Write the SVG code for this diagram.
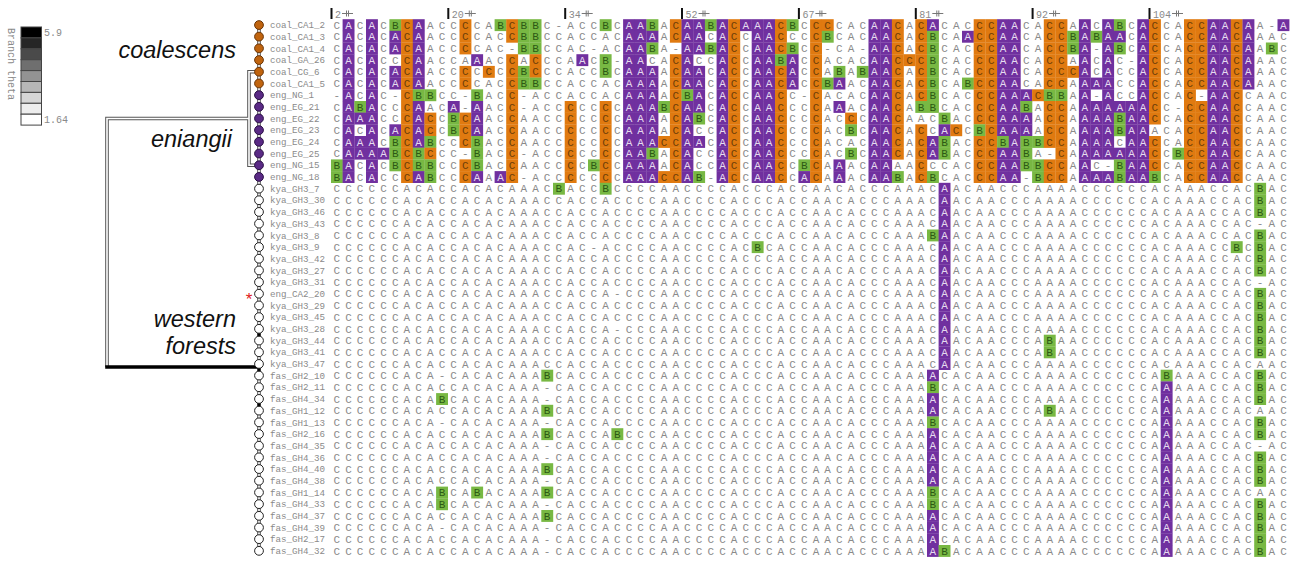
<svg xmlns="http://www.w3.org/2000/svg" width="1295" height="562" viewBox="0 0 1295 562">
<style>
.t{font-family:"Liberation Mono",monospace;font-size:11px;letter-spacing:5.086px;fill:#8a8a8a}
.g{font-family:"Liberation Mono",monospace;font-size:11px;text-anchor:middle}
.lb{font-family:"Liberation Mono",monospace;font-size:9.2px;fill:#8a8a8a}
.hd{font-family:"Liberation Mono",monospace;font-size:10px;fill:#8a8a8a}
.lg{font-family:"Liberation Mono",monospace;font-size:10px;fill:#8a8a8a}
.cl{font-family:"Liberation Sans",Arial,sans-serif;font-style:italic;font-size:23.5px;fill:#111;text-anchor:end}
.co{fill:#c0640f;stroke:#6a3507;stroke-width:1}
.en{fill:#5a2a85;stroke:#2a0f45;stroke-width:1}
.we{fill:#fff;stroke:#222;stroke-width:1}
.lo{fill:none;stroke:#555;stroke-width:3.6}
.li{fill:none;stroke:#fff;stroke-width:1.6}
.lk{fill:none;stroke:#000;stroke-width:3.6}
</style>
<defs>
<g id="A"><rect width="11.9" height="11.9" fill="#70309f"/><text class="g" x="5.84" y="9.5" fill="#e6dcef">A</text></g>
<g id="B"><rect width="11.9" height="11.9" fill="#78b843"/><text class="g" x="5.84" y="9.5" fill="#2d5a14">B</text></g>
<g id="C"><rect width="11.9" height="11.9" fill="#e07a10"/><text class="g" x="5.84" y="9.5" fill="#6e3e08">C</text></g>
<path id="brk" d="M0,0 h11 M4.5,-3 v6 M6.5,-3 v6" stroke="#777" stroke-width="1" fill="none"/>
</defs>
<rect width="1295" height="562" fill="#fff"/>
<g id="legend">
<text class="lg" transform="translate(7.5,28) rotate(90)">Branch theta</text>
<g stroke="#444" stroke-width="1">
<rect x="21" y="27" width="20.5" height="10.9" fill="#000"/>
<rect x="21" y="37.9" width="20.5" height="10.9" fill="#262626"/>
<rect x="21" y="48.8" width="20.5" height="10.9" fill="#4a4a4a"/>
<rect x="21" y="59.7" width="20.5" height="10.9" fill="#6f6f6f"/>
<rect x="21" y="70.6" width="20.5" height="10.9" fill="#939393"/>
<rect x="21" y="81.5" width="20.5" height="10.9" fill="#b7b7b7"/>
<rect x="21" y="92.4" width="20.5" height="10.9" fill="#d6d6d6"/>
<rect x="21" y="103.3" width="20.5" height="10.9" fill="#ededed"/>
<rect x="21" y="114.2" width="20.5" height="10.9" fill="#fff"/>
</g>
<text class="lg" x="44" y="35.5">5.9</text>
<text class="lg" x="44" y="122.5">1.64</text>
</g>
<g id="clade-labels">
<text class="cl" x="236" y="58">coalescens</text>
<text class="cl" x="232" y="147">eniangii</text>
<text class="cl" x="236" y="327">western</text>
<text class="cl" x="236" y="354">forests</text>
<text x="249" y="305" fill="#e02020" font-size="17" text-anchor="middle" font-family="Liberation Sans,Arial,sans-serif">*</text>
</g>
<g id="connectors">
<path class="lo" d="M259,25 V550.9 M258,71.7 H249 V165.2 H258 M249,118.5 H107 V367"/>
<path class="li" d="M259,25 V550.9 M258,71.7 H249 V165.2 H258 M249,118.5 H107 V367"/>
<path class="lk" d="M105.2,367 H259"/>
<path fill="none" stroke="#000" stroke-width="3" d="M259,332 V337 M259,367 V372 M259,402 V407"/>
</g>
<g id="ruler">
<g fill="#111">
<rect x="330.5" y="8" width="2" height="11"/><rect x="447.3" y="8" width="2" height="11"/><rect x="564.2" y="8" width="2" height="11"/><rect x="681" y="8" width="2" height="11"/><rect x="797.9" y="8" width="2" height="11"/><rect x="914.8" y="8" width="2" height="11"/><rect x="1031.6" y="8" width="2" height="11"/><rect x="1148.5" y="8" width="2" height="11"/>
</g>
<text class="hd" x="335" y="17.5">2</text><text class="hd" x="451.8" y="17.5">20</text><text class="hd" x="568.7" y="17.5">34</text><text class="hd" x="685.5" y="17.5">52</text><text class="hd" x="802.4" y="17.5">67</text><text class="hd" x="919.3" y="17.5">81</text><text class="hd" x="1036.1" y="17.5">92</text><text class="hd" x="1153" y="17.5">104</text>
<use href="#brk" x="342" y="13.5"/><use href="#brk" x="464.8" y="13.5"/><use href="#brk" x="581.7" y="13.5"/><use href="#brk" x="698.5" y="13.5"/><use href="#brk" x="815.4" y="13.5"/><use href="#brk" x="932.3" y="13.5"/><use href="#brk" x="1049.1" y="13.5"/><use href="#brk" x="1172" y="13.5"/>
</g>
<g id="r0" transform="translate(0,19.2)"><circle class="co" cx="259" cy="5.84" r="4.4"/><text class="lb" x="270" y="9">coal_CA1_2</text><text class="t" x="333.5" y="9.5">CACACBCAACCCCABCBBC-ACCBCAABACAABACAAACBCCCCACAACACACACCCAACACCAACABCACCACCAACAA-A</text><use href="#A" x="342.6"/><use href="#A" x="366"/><use href="#B" x="389.4"/><use href="#C" x="401.1"/><use href="#A" x="412.8"/><use href="#C" x="459.5"/><use href="#B" x="494.6"/><use href="#C" x="506.2"/><use href="#B" x="517.9"/><use href="#B" x="529.6"/><use href="#B" x="599.7"/><use href="#A" x="623.1"/><use href="#A" x="634.8"/><use href="#B" x="646.5"/><use href="#C" x="669.9"/><use href="#A" x="681.5"/><use href="#A" x="693.2"/><use href="#B" x="704.9"/><use href="#A" x="716.6"/><use href="#C" x="728.3"/><use href="#A" x="740"/><use href="#A" x="751.7"/><use href="#A" x="763.3"/><use href="#C" x="775"/><use href="#B" x="786.7"/><use href="#C" x="810.1"/><use href="#C" x="821.8"/><use href="#A" x="868.5"/><use href="#A" x="880.2"/><use href="#C" x="891.9"/><use href="#C" x="915.3"/><use href="#A" x="927"/><use href="#C" x="973.7"/><use href="#C" x="985.4"/><use href="#A" x="997.1"/><use href="#A" x="1008.8"/><use href="#C" x="1043.8"/><use href="#C" x="1055.5"/><use href="#A" x="1078.9"/><use href="#A" x="1102.2"/><use href="#B" x="1113.9"/><use href="#A" x="1137.3"/><use href="#C" x="1149"/><use href="#C" x="1184"/><use href="#C" x="1195.7"/><use href="#A" x="1207.4"/><use href="#A" x="1219.1"/><use href="#C" x="1230.8"/><use href="#A" x="1242.5"/><use href="#A" x="1277.5"/></g>
<g id="r1" transform="translate(0,30.8)"><circle class="co" cx="259" cy="5.84" r="4.4"/><text class="lb" x="270" y="9">coal_CA1_3</text><text class="t" x="333.5" y="9.5">CACACACAACCCCACCBBCCACCACAAAACAACACCAACCCCBCACAACACBCAACCAACACCBABAACACCACCAACAAAC</text><use href="#A" x="342.6"/><use href="#A" x="366"/><use href="#A" x="389.4"/><use href="#C" x="401.1"/><use href="#A" x="412.8"/><use href="#C" x="459.5"/><use href="#C" x="506.2"/><use href="#B" x="517.9"/><use href="#B" x="529.6"/><use href="#A" x="623.1"/><use href="#A" x="634.8"/><use href="#A" x="646.5"/><use href="#C" x="669.9"/><use href="#A" x="681.5"/><use href="#A" x="693.2"/><use href="#A" x="716.6"/><use href="#C" x="728.3"/><use href="#A" x="751.7"/><use href="#A" x="763.3"/><use href="#C" x="775"/><use href="#C" x="810.1"/><use href="#B" x="821.8"/><use href="#A" x="868.5"/><use href="#A" x="880.2"/><use href="#C" x="891.9"/><use href="#C" x="915.3"/><use href="#B" x="927"/><use href="#A" x="962"/><use href="#C" x="973.7"/><use href="#C" x="985.4"/><use href="#A" x="997.1"/><use href="#A" x="1008.8"/><use href="#C" x="1043.8"/><use href="#C" x="1055.5"/><use href="#B" x="1067.2"/><use href="#A" x="1078.9"/><use href="#B" x="1090.6"/><use href="#A" x="1102.2"/><use href="#A" x="1113.9"/><use href="#A" x="1137.3"/><use href="#C" x="1149"/><use href="#C" x="1184"/><use href="#C" x="1195.7"/><use href="#A" x="1207.4"/><use href="#A" x="1219.1"/><use href="#C" x="1230.8"/><use href="#A" x="1242.5"/></g>
<g id="r2" transform="translate(0,42.5)"><circle class="co" cx="259" cy="5.84" r="4.4"/><text class="lb" x="270" y="9">coal_CA1_4</text><text class="t" x="333.5" y="9.5">CACACACAACCCCAC-BBCCAC-ACAABA-AABACCAACBCC-CA-AACACBCACCCAACACCBA-ABCACCACCAACAABC</text><use href="#A" x="342.6"/><use href="#A" x="366"/><use href="#A" x="389.4"/><use href="#C" x="401.1"/><use href="#A" x="412.8"/><use href="#C" x="459.5"/><use href="#B" x="517.9"/><use href="#B" x="529.6"/><use href="#A" x="623.1"/><use href="#A" x="634.8"/><use href="#B" x="646.5"/><use href="#A" x="681.5"/><use href="#A" x="693.2"/><use href="#B" x="704.9"/><use href="#A" x="716.6"/><use href="#C" x="728.3"/><use href="#A" x="751.7"/><use href="#A" x="763.3"/><use href="#C" x="775"/><use href="#B" x="786.7"/><use href="#C" x="810.1"/><use href="#A" x="868.5"/><use href="#A" x="880.2"/><use href="#C" x="891.9"/><use href="#C" x="915.3"/><use href="#B" x="927"/><use href="#C" x="973.7"/><use href="#C" x="985.4"/><use href="#A" x="997.1"/><use href="#A" x="1008.8"/><use href="#C" x="1043.8"/><use href="#C" x="1055.5"/><use href="#B" x="1067.2"/><use href="#A" x="1078.9"/><use href="#A" x="1102.2"/><use href="#B" x="1113.9"/><use href="#A" x="1137.3"/><use href="#C" x="1149"/><use href="#C" x="1184"/><use href="#C" x="1195.7"/><use href="#A" x="1207.4"/><use href="#A" x="1219.1"/><use href="#C" x="1230.8"/><use href="#A" x="1242.5"/><use href="#B" x="1265.9"/></g>
<g id="r3" transform="translate(0,54.2)"><circle class="co" cx="259" cy="5.84" r="4.4"/><text class="lb" x="270" y="9">coal_GA_26</text><text class="t" x="333.5" y="9.5">CACACCCAACCAAACCACCCAACB-AACACACCACCAABACCACACAACCCBCACCCAACACCAACAC-ACCACCAACAAAC</text><use href="#A" x="342.6"/><use href="#A" x="366"/><use href="#C" x="401.1"/><use href="#A" x="412.8"/><use href="#A" x="471.2"/><use href="#C" x="506.2"/><use href="#C" x="529.6"/><use href="#A" x="576.4"/><use href="#B" x="599.7"/><use href="#A" x="623.1"/><use href="#A" x="634.8"/><use href="#C" x="669.9"/><use href="#A" x="681.5"/><use href="#A" x="716.6"/><use href="#C" x="728.3"/><use href="#A" x="751.7"/><use href="#A" x="763.3"/><use href="#B" x="775"/><use href="#A" x="786.7"/><use href="#C" x="810.1"/><use href="#A" x="868.5"/><use href="#A" x="880.2"/><use href="#C" x="891.9"/><use href="#C" x="903.6"/><use href="#C" x="915.3"/><use href="#B" x="927"/><use href="#C" x="973.7"/><use href="#C" x="985.4"/><use href="#A" x="997.1"/><use href="#A" x="1008.8"/><use href="#C" x="1043.8"/><use href="#C" x="1055.5"/><use href="#A" x="1078.9"/><use href="#A" x="1102.2"/><use href="#A" x="1137.3"/><use href="#C" x="1149"/><use href="#C" x="1184"/><use href="#C" x="1195.7"/><use href="#A" x="1207.4"/><use href="#A" x="1219.1"/><use href="#C" x="1230.8"/><use href="#A" x="1242.5"/></g>
<g id="r4" transform="translate(0,65.9)"><circle class="co" cx="259" cy="5.84" r="4.4"/><text class="lb" x="270" y="9">coal_CG_6</text><text class="t" x="333.5" y="9.5">CACACACAACCCCCCCBCCCACCBCAAAACAACACCAACACCABABAACACBCACCCAACACCCACACCACCACCAACAAAC</text><use href="#A" x="342.6"/><use href="#A" x="366"/><use href="#A" x="389.4"/><use href="#C" x="401.1"/><use href="#A" x="412.8"/><use href="#C" x="459.5"/><use href="#C" x="482.9"/><use href="#C" x="506.2"/><use href="#B" x="517.9"/><use href="#C" x="529.6"/><use href="#B" x="599.7"/><use href="#A" x="623.1"/><use href="#A" x="634.8"/><use href="#A" x="646.5"/><use href="#C" x="669.9"/><use href="#A" x="681.5"/><use href="#A" x="693.2"/><use href="#A" x="716.6"/><use href="#C" x="728.3"/><use href="#A" x="751.7"/><use href="#A" x="763.3"/><use href="#C" x="775"/><use href="#A" x="786.7"/><use href="#C" x="810.1"/><use href="#B" x="833.5"/><use href="#B" x="856.8"/><use href="#A" x="868.5"/><use href="#A" x="880.2"/><use href="#C" x="891.9"/><use href="#C" x="915.3"/><use href="#B" x="927"/><use href="#C" x="973.7"/><use href="#C" x="985.4"/><use href="#A" x="997.1"/><use href="#A" x="1008.8"/><use href="#C" x="1043.8"/><use href="#C" x="1055.5"/><use href="#C" x="1067.2"/><use href="#A" x="1078.9"/><use href="#A" x="1102.2"/><use href="#A" x="1137.3"/><use href="#C" x="1149"/><use href="#C" x="1184"/><use href="#C" x="1195.7"/><use href="#A" x="1207.4"/><use href="#A" x="1219.1"/><use href="#C" x="1230.8"/><use href="#A" x="1242.5"/></g>
<g id="r5" transform="translate(0,77.6)"><circle class="co" cx="259" cy="5.84" r="4.4"/><text class="lb" x="270" y="9">coal_CA1_5</text><text class="t" x="333.5" y="9.5">CACACACAACCCCACCBBCCACCACAAAACAACACCAACACCBAACAACACBCABCCAACACCAAAACCACCACCAACAAAC</text><use href="#A" x="342.6"/><use href="#A" x="366"/><use href="#A" x="389.4"/><use href="#C" x="401.1"/><use href="#A" x="412.8"/><use href="#C" x="459.5"/><use href="#C" x="506.2"/><use href="#B" x="517.9"/><use href="#B" x="529.6"/><use href="#A" x="623.1"/><use href="#A" x="634.8"/><use href="#A" x="646.5"/><use href="#C" x="669.9"/><use href="#A" x="681.5"/><use href="#A" x="693.2"/><use href="#A" x="716.6"/><use href="#C" x="728.3"/><use href="#A" x="751.7"/><use href="#A" x="763.3"/><use href="#C" x="775"/><use href="#A" x="786.7"/><use href="#C" x="810.1"/><use href="#B" x="821.8"/><use href="#A" x="833.5"/><use href="#A" x="868.5"/><use href="#A" x="880.2"/><use href="#C" x="891.9"/><use href="#C" x="915.3"/><use href="#B" x="927"/><use href="#B" x="962"/><use href="#C" x="973.7"/><use href="#C" x="985.4"/><use href="#A" x="997.1"/><use href="#A" x="1008.8"/><use href="#C" x="1043.8"/><use href="#C" x="1055.5"/><use href="#A" x="1078.9"/><use href="#A" x="1090.6"/><use href="#A" x="1102.2"/><use href="#A" x="1137.3"/><use href="#C" x="1149"/><use href="#C" x="1184"/><use href="#C" x="1195.7"/><use href="#A" x="1207.4"/><use href="#A" x="1219.1"/><use href="#C" x="1230.8"/><use href="#A" x="1242.5"/></g>
<g id="r6" transform="translate(0,89.3)"><circle class="en" cx="259" cy="5.84" r="4.4"/><text class="lb" x="270" y="9">eng_NG_1</text><text class="t" x="333.5" y="9.5">-ACAC-CBBCC-BACC-ACCACCACAAAACBACACCAACC-CACACAACACBCACCCAAACBBAA-ACCACCAC-AACCAAC</text><use href="#A" x="342.6"/><use href="#A" x="366"/><use href="#C" x="401.1"/><use href="#B" x="412.8"/><use href="#B" x="424.4"/><use href="#B" x="471.2"/><use href="#C" x="506.2"/><use href="#A" x="623.1"/><use href="#A" x="634.8"/><use href="#A" x="646.5"/><use href="#C" x="669.9"/><use href="#B" x="681.5"/><use href="#A" x="693.2"/><use href="#A" x="716.6"/><use href="#C" x="728.3"/><use href="#A" x="751.7"/><use href="#A" x="763.3"/><use href="#C" x="775"/><use href="#C" x="810.1"/><use href="#A" x="868.5"/><use href="#A" x="880.2"/><use href="#C" x="891.9"/><use href="#C" x="915.3"/><use href="#B" x="927"/><use href="#C" x="973.7"/><use href="#C" x="985.4"/><use href="#A" x="997.1"/><use href="#A" x="1008.8"/><use href="#A" x="1020.4"/><use href="#C" x="1032.1"/><use href="#B" x="1043.8"/><use href="#B" x="1055.5"/><use href="#A" x="1078.9"/><use href="#A" x="1102.2"/><use href="#A" x="1137.3"/><use href="#C" x="1149"/><use href="#C" x="1184"/><use href="#A" x="1207.4"/><use href="#A" x="1219.1"/><use href="#C" x="1230.8"/></g>
<g id="r7" transform="translate(0,101)"><circle class="en" cx="259" cy="5.84" r="4.4"/><text class="lb" x="270" y="9">eng_EG_21</text><text class="t" x="333.5" y="9.5">CABACCCAACA-AACC-ACCCCCCCAAABCAACACCAACCCCAAACAACABBCACCCAABACCAAAAAAACC-CCAACCAAC</text><use href="#A" x="342.6"/><use href="#B" x="354.3"/><use href="#A" x="366"/><use href="#C" x="401.1"/><use href="#A" x="412.8"/><use href="#A" x="447.8"/><use href="#A" x="471.2"/><use href="#C" x="506.2"/><use href="#C" x="564.7"/><use href="#C" x="599.7"/><use href="#A" x="623.1"/><use href="#A" x="634.8"/><use href="#A" x="646.5"/><use href="#B" x="658.2"/><use href="#C" x="669.9"/><use href="#A" x="681.5"/><use href="#A" x="693.2"/><use href="#A" x="716.6"/><use href="#C" x="728.3"/><use href="#A" x="751.7"/><use href="#A" x="763.3"/><use href="#C" x="775"/><use href="#C" x="810.1"/><use href="#A" x="833.5"/><use href="#A" x="868.5"/><use href="#A" x="880.2"/><use href="#C" x="891.9"/><use href="#B" x="915.3"/><use href="#B" x="927"/><use href="#C" x="973.7"/><use href="#C" x="985.4"/><use href="#A" x="997.1"/><use href="#A" x="1008.8"/><use href="#B" x="1020.4"/><use href="#C" x="1043.8"/><use href="#C" x="1055.5"/><use href="#A" x="1078.9"/><use href="#A" x="1090.6"/><use href="#A" x="1102.2"/><use href="#A" x="1113.9"/><use href="#A" x="1125.6"/><use href="#A" x="1137.3"/><use href="#C" x="1149"/><use href="#C" x="1184"/><use href="#C" x="1195.7"/><use href="#A" x="1207.4"/><use href="#A" x="1219.1"/><use href="#C" x="1230.8"/></g>
<g id="r8" transform="translate(0,112.6)"><circle class="en" cx="259" cy="5.84" r="4.4"/><text class="lb" x="270" y="9">eng_EG_22</text><text class="t" x="333.5" y="9.5">CAAACCCACCBCAACCAACCCCCCCAAAACABCACCAACCCCACCCAACAACBACCCAAAACCAAAABAACCACCAACCAAC</text><use href="#A" x="342.6"/><use href="#A" x="354.3"/><use href="#A" x="366"/><use href="#C" x="401.1"/><use href="#A" x="412.8"/><use href="#C" x="424.4"/><use href="#B" x="447.8"/><use href="#C" x="459.5"/><use href="#A" x="471.2"/><use href="#C" x="506.2"/><use href="#C" x="564.7"/><use href="#C" x="599.7"/><use href="#A" x="623.1"/><use href="#A" x="634.8"/><use href="#A" x="646.5"/><use href="#C" x="669.9"/><use href="#A" x="681.5"/><use href="#B" x="693.2"/><use href="#A" x="716.6"/><use href="#C" x="728.3"/><use href="#A" x="751.7"/><use href="#A" x="763.3"/><use href="#C" x="775"/><use href="#C" x="810.1"/><use href="#C" x="845.1"/><use href="#A" x="868.5"/><use href="#A" x="880.2"/><use href="#C" x="891.9"/><use href="#B" x="938.6"/><use href="#C" x="973.7"/><use href="#C" x="985.4"/><use href="#A" x="997.1"/><use href="#A" x="1008.8"/><use href="#A" x="1020.4"/><use href="#C" x="1043.8"/><use href="#C" x="1055.5"/><use href="#A" x="1078.9"/><use href="#A" x="1090.6"/><use href="#A" x="1102.2"/><use href="#B" x="1113.9"/><use href="#A" x="1125.6"/><use href="#A" x="1137.3"/><use href="#C" x="1149"/><use href="#C" x="1184"/><use href="#C" x="1195.7"/><use href="#A" x="1207.4"/><use href="#A" x="1219.1"/><use href="#C" x="1230.8"/></g>
<g id="r9" transform="translate(0,124.3)"><circle class="en" cx="259" cy="5.84" r="4.4"/><text class="lb" x="270" y="9">eng_EG_23</text><text class="t" x="333.5" y="9.5">CACACACACCBCAACCAACCCCCCCAAAACACCACCAACCCCACBCAACACCACCBCAAAACCAAAABAAACACCAACCAAC</text><use href="#A" x="342.6"/><use href="#A" x="366"/><use href="#A" x="389.4"/><use href="#C" x="401.1"/><use href="#A" x="412.8"/><use href="#C" x="424.4"/><use href="#B" x="447.8"/><use href="#C" x="459.5"/><use href="#A" x="471.2"/><use href="#C" x="506.2"/><use href="#C" x="564.7"/><use href="#C" x="599.7"/><use href="#A" x="623.1"/><use href="#A" x="634.8"/><use href="#A" x="646.5"/><use href="#C" x="669.9"/><use href="#A" x="681.5"/><use href="#A" x="716.6"/><use href="#C" x="728.3"/><use href="#A" x="751.7"/><use href="#A" x="763.3"/><use href="#C" x="775"/><use href="#C" x="810.1"/><use href="#B" x="845.1"/><use href="#A" x="868.5"/><use href="#A" x="880.2"/><use href="#C" x="891.9"/><use href="#C" x="915.3"/><use href="#A" x="938.6"/><use href="#C" x="950.3"/><use href="#B" x="973.7"/><use href="#C" x="985.4"/><use href="#A" x="997.1"/><use href="#A" x="1008.8"/><use href="#A" x="1020.4"/><use href="#C" x="1043.8"/><use href="#C" x="1055.5"/><use href="#A" x="1078.9"/><use href="#A" x="1090.6"/><use href="#A" x="1102.2"/><use href="#B" x="1113.9"/><use href="#A" x="1125.6"/><use href="#A" x="1137.3"/><use href="#C" x="1184"/><use href="#C" x="1195.7"/><use href="#A" x="1207.4"/><use href="#A" x="1219.1"/><use href="#C" x="1230.8"/></g>
<g id="r10" transform="translate(0,136)"><circle class="en" cx="259" cy="5.84" r="4.4"/><text class="lb" x="270" y="9">eng_EG_24</text><text class="t" x="333.5" y="9.5">CAAACBCABCCCBACCAACCCCCCCAAACCAACACCAACCCCACACAACACABACCCBABBCCAAAACAACCACCAACCAAC</text><use href="#A" x="342.6"/><use href="#A" x="354.3"/><use href="#A" x="366"/><use href="#B" x="389.4"/><use href="#C" x="401.1"/><use href="#A" x="412.8"/><use href="#B" x="424.4"/><use href="#C" x="459.5"/><use href="#B" x="471.2"/><use href="#C" x="506.2"/><use href="#C" x="564.7"/><use href="#C" x="599.7"/><use href="#A" x="623.1"/><use href="#A" x="634.8"/><use href="#A" x="646.5"/><use href="#C" x="658.2"/><use href="#C" x="669.9"/><use href="#A" x="681.5"/><use href="#A" x="693.2"/><use href="#A" x="716.6"/><use href="#C" x="728.3"/><use href="#A" x="751.7"/><use href="#A" x="763.3"/><use href="#C" x="775"/><use href="#C" x="810.1"/><use href="#A" x="868.5"/><use href="#A" x="880.2"/><use href="#C" x="891.9"/><use href="#C" x="915.3"/><use href="#A" x="927"/><use href="#B" x="938.6"/><use href="#C" x="973.7"/><use href="#C" x="985.4"/><use href="#B" x="997.1"/><use href="#A" x="1008.8"/><use href="#B" x="1020.4"/><use href="#B" x="1032.1"/><use href="#C" x="1043.8"/><use href="#C" x="1055.5"/><use href="#A" x="1078.9"/><use href="#A" x="1090.6"/><use href="#A" x="1102.2"/><use href="#A" x="1125.6"/><use href="#A" x="1137.3"/><use href="#C" x="1149"/><use href="#C" x="1184"/><use href="#C" x="1195.7"/><use href="#A" x="1207.4"/><use href="#A" x="1219.1"/><use href="#C" x="1230.8"/></g>
<g id="r11" transform="translate(0,147.7)"><circle class="en" cx="259" cy="5.84" r="4.4"/><text class="lb" x="270" y="9">eng_EG_25</text><text class="t" x="333.5" y="9.5">CAAAABCBCCC-BACC-ACCCCCCCAABACACCACCAACCCCACBCAACACABACCCAABA-CAAAAAAACCBCCAACCAAC</text><use href="#A" x="342.6"/><use href="#A" x="354.3"/><use href="#A" x="366"/><use href="#A" x="377.7"/><use href="#B" x="389.4"/><use href="#C" x="401.1"/><use href="#B" x="412.8"/><use href="#C" x="424.4"/><use href="#B" x="471.2"/><use href="#C" x="506.2"/><use href="#C" x="564.7"/><use href="#C" x="599.7"/><use href="#A" x="623.1"/><use href="#A" x="634.8"/><use href="#B" x="646.5"/><use href="#C" x="669.9"/><use href="#A" x="681.5"/><use href="#A" x="716.6"/><use href="#C" x="728.3"/><use href="#A" x="751.7"/><use href="#A" x="763.3"/><use href="#C" x="775"/><use href="#C" x="810.1"/><use href="#B" x="845.1"/><use href="#A" x="868.5"/><use href="#A" x="880.2"/><use href="#C" x="891.9"/><use href="#C" x="915.3"/><use href="#A" x="927"/><use href="#B" x="938.6"/><use href="#C" x="973.7"/><use href="#C" x="985.4"/><use href="#A" x="997.1"/><use href="#A" x="1008.8"/><use href="#B" x="1020.4"/><use href="#C" x="1055.5"/><use href="#A" x="1078.9"/><use href="#A" x="1090.6"/><use href="#A" x="1102.2"/><use href="#A" x="1113.9"/><use href="#A" x="1125.6"/><use href="#A" x="1137.3"/><use href="#C" x="1149"/><use href="#B" x="1172.4"/><use href="#C" x="1184"/><use href="#C" x="1195.7"/><use href="#A" x="1207.4"/><use href="#A" x="1219.1"/><use href="#C" x="1230.8"/></g>
<g id="r12" transform="translate(0,159.4)"><circle class="en" cx="259" cy="5.84" r="4.4"/><text class="lb" x="270" y="9">eng_NG_15</text><text class="t" x="333.5" y="9.5">BACACBCBBCCCBACCAACCCCBCCAAAACACCACCAACCBCAAACAAAACCCACCCAABBCCAAC-BAACCACCAACCAAC</text><use href="#B" x="331"/><use href="#A" x="342.6"/><use href="#A" x="366"/><use href="#B" x="389.4"/><use href="#C" x="401.1"/><use href="#B" x="412.8"/><use href="#B" x="424.4"/><use href="#C" x="459.5"/><use href="#B" x="471.2"/><use href="#C" x="506.2"/><use href="#C" x="564.7"/><use href="#B" x="588"/><use href="#C" x="599.7"/><use href="#A" x="623.1"/><use href="#A" x="634.8"/><use href="#A" x="646.5"/><use href="#C" x="669.9"/><use href="#A" x="681.5"/><use href="#A" x="716.6"/><use href="#C" x="728.3"/><use href="#A" x="751.7"/><use href="#A" x="763.3"/><use href="#C" x="775"/><use href="#B" x="798.4"/><use href="#C" x="810.1"/><use href="#A" x="833.5"/><use href="#A" x="868.5"/><use href="#A" x="880.2"/><use href="#C" x="915.3"/><use href="#C" x="973.7"/><use href="#C" x="985.4"/><use href="#A" x="997.1"/><use href="#A" x="1008.8"/><use href="#B" x="1020.4"/><use href="#B" x="1032.1"/><use href="#C" x="1043.8"/><use href="#C" x="1055.5"/><use href="#A" x="1078.9"/><use href="#B" x="1113.9"/><use href="#A" x="1125.6"/><use href="#A" x="1137.3"/><use href="#C" x="1149"/><use href="#C" x="1184"/><use href="#C" x="1195.7"/><use href="#A" x="1207.4"/><use href="#A" x="1219.1"/><use href="#C" x="1230.8"/></g>
<g id="r13" transform="translate(0,171.1)"><circle class="en" cx="259" cy="5.84" r="4.4"/><text class="lb" x="270" y="9">eng_NG_18</text><text class="t" x="333.5" y="9.5">BACACCCABCCCAAAC-ACCCCCCCAAACCAB-ACCAACCACAAACAABACBCACCCAA-BCCAAAABAABCACCAACCAAC</text><use href="#B" x="331"/><use href="#A" x="342.6"/><use href="#A" x="366"/><use href="#C" x="401.1"/><use href="#A" x="412.8"/><use href="#B" x="424.4"/><use href="#C" x="459.5"/><use href="#A" x="471.2"/><use href="#A" x="494.6"/><use href="#C" x="506.2"/><use href="#C" x="564.7"/><use href="#C" x="599.7"/><use href="#A" x="623.1"/><use href="#A" x="634.8"/><use href="#A" x="646.5"/><use href="#C" x="658.2"/><use href="#C" x="669.9"/><use href="#A" x="681.5"/><use href="#B" x="693.2"/><use href="#A" x="716.6"/><use href="#C" x="728.3"/><use href="#A" x="751.7"/><use href="#A" x="763.3"/><use href="#C" x="775"/><use href="#A" x="798.4"/><use href="#C" x="810.1"/><use href="#A" x="833.5"/><use href="#A" x="868.5"/><use href="#A" x="880.2"/><use href="#B" x="891.9"/><use href="#C" x="915.3"/><use href="#B" x="927"/><use href="#C" x="973.7"/><use href="#C" x="985.4"/><use href="#A" x="997.1"/><use href="#A" x="1008.8"/><use href="#B" x="1032.1"/><use href="#C" x="1043.8"/><use href="#C" x="1055.5"/><use href="#A" x="1078.9"/><use href="#A" x="1090.6"/><use href="#A" x="1102.2"/><use href="#B" x="1113.9"/><use href="#A" x="1125.6"/><use href="#A" x="1137.3"/><use href="#B" x="1149"/><use href="#C" x="1184"/><use href="#C" x="1195.7"/><use href="#A" x="1207.4"/><use href="#A" x="1219.1"/><use href="#C" x="1230.8"/></g>
<g id="r14" transform="translate(0,182.8)"><circle class="we" cx="259" cy="5.84" r="4.4"/><text class="lb" x="270" y="9">kya_GH3_7</text><text class="t" x="333.5" y="9.5">CCCCCCACACCACACAAACBACCBCCCCAACCCCACCCACCAACACCCAAACAACAACCCAAAACCCCCCACAAACCACBAC</text><use href="#B" x="553"/><use href="#B" x="599.7"/><use href="#A" x="938.6"/><use href="#B" x="1254.2"/></g>
<g id="r15" transform="translate(0,194.4)"><circle class="we" cx="259" cy="5.84" r="4.4"/><text class="lb" x="270" y="9">kya_GH3_30</text><text class="t" x="333.5" y="9.5">CCCCCCACACCACACAAACCACCACCCCAACCCCACCCACCAACACCCAAACAACAACCCAAAACCCCCCACAAACCACBAC</text><use href="#A" x="938.6"/><use href="#B" x="1254.2"/></g>
<g id="r16" transform="translate(0,206.1)"><circle class="we" cx="259" cy="5.84" r="4.4"/><text class="lb" x="270" y="9">kya_GH3_46</text><text class="t" x="333.5" y="9.5">CCCCCCACACCACACAAACCACCACCCCAACCCCACCCACCAACACCCAAACAACAACCCAAAACCCCCCACAAACCACBAC</text><use href="#A" x="938.6"/><use href="#B" x="1254.2"/></g>
<g id="r17" transform="translate(0,217.8)"><circle class="we" cx="259" cy="5.84" r="4.4"/><text class="lb" x="270" y="9">kya_GH3_43</text><text class="t" x="333.5" y="9.5">CCCCCCACACCACACAAACCACCACCCCAACCCCACCCACCAACACCCAAACAACAACCCAAAACCCCCCACAAACCAC-AC</text><use href="#A" x="938.6"/></g>
<g id="r18" transform="translate(0,229.5)"><circle class="we" cx="259" cy="5.84" r="4.4"/><text class="lb" x="270" y="9">kya_GH3_8</text><text class="t" x="333.5" y="9.5">CCCCCCACACCACACAAACCACCACCCCAACCCCACCCACCAACACCCAAABAACAACCCAAAACCCCCCACAAACCACBAC</text><use href="#B" x="927"/><use href="#A" x="938.6"/><use href="#B" x="1254.2"/></g>
<g id="r19" transform="translate(0,241.2)"><circle class="we" cx="259" cy="5.84" r="4.4"/><text class="lb" x="270" y="9">kya_GH3_9</text><text class="t" x="333.5" y="9.5">CCCCCCACACCACACAAACCAC-ACCCCAACCCCACBCACCAACACCCAAACAACAACCCAAAACCCCCCACAAACCBCBAC</text><use href="#B" x="751.7"/><use href="#A" x="938.6"/><use href="#B" x="1230.8"/><use href="#B" x="1254.2"/></g>
<g id="r20" transform="translate(0,252.9)"><circle class="we" cx="259" cy="5.84" r="4.4"/><text class="lb" x="270" y="9">kya_GH3_42</text><text class="t" x="333.5" y="9.5">CCCCCCACACCACACAAACCACCACCCCAACCCCACCCACCAACACCCAAACAACAACCCAAAACCCCCCACAAACCACBAC</text><use href="#A" x="938.6"/><use href="#B" x="1254.2"/></g>
<g id="r21" transform="translate(0,264.6)"><circle class="we" cx="259" cy="5.84" r="4.4"/><text class="lb" x="270" y="9">kya_GH3_27</text><text class="t" x="333.5" y="9.5">CCCCCCACACCACACAAACCACCACCCCAACCCCACCCACCAACACCCAAACAACAACCCAAAACCCCCCACAAACCACBAC</text><use href="#A" x="938.6"/><use href="#B" x="1254.2"/></g>
<g id="r22" transform="translate(0,276.3)"><circle class="we" cx="259" cy="5.84" r="4.4"/><text class="lb" x="270" y="9">kya_GH3_31</text><text class="t" x="333.5" y="9.5">CCCCCCACACCACACAAACCACCACCCCAACCCCACCCACCAACACCCAAACAACAACCCAAAACCCCCCACAAACCAC-AC</text><use href="#A" x="938.6"/></g>
<g id="r23" transform="translate(0,287.9)"><circle class="we" cx="259" cy="5.84" r="4.4"/><text class="lb" x="270" y="9">eng_CA2_20</text><text class="t" x="333.5" y="9.5">CCCCCCACACCACACAAACCACCA-CCCAACCCCACCCACCAACACCCAAACAACAACCCAAAACCCCCCACAAACCACBAC</text><use href="#A" x="938.6"/><use href="#B" x="1254.2"/></g>
<g id="r24" transform="translate(0,299.6)"><circle class="we" cx="259" cy="5.84" r="4.4"/><text class="lb" x="270" y="9">kya_GH3_29</text><text class="t" x="333.5" y="9.5">CCCCCCACACCACACAAACCACCACCCCAACCCCACCCACCAACACCCAAACAACAACCCAAAACCCCCCACAAACCACBAC</text><use href="#A" x="938.6"/><use href="#B" x="1254.2"/></g>
<g id="r25" transform="translate(0,311.3)"><circle class="we" cx="259" cy="5.84" r="4.4"/><text class="lb" x="270" y="9">kya_GH3_45</text><text class="t" x="333.5" y="9.5">CCCCCCACACCACACAAACCACCACCCCAACCCCACCCACCAACACCCAAACAACAACCCAAAACCCCCCACAAACCACBAC</text><use href="#A" x="938.6"/><use href="#B" x="1254.2"/></g>
<g id="r26" transform="translate(0,323)"><circle class="we" cx="259" cy="5.84" r="4.4"/><text class="lb" x="270" y="9">kya_GH3_28</text><text class="t" x="333.5" y="9.5">CCCCCCACACCACACAAACCACCA-CCCAACCCCACCCACCAACACCCAAACAACAACCCAAAACCCCCCACAAACCACBAC</text><use href="#A" x="938.6"/><use href="#B" x="1254.2"/></g>
<g id="r27" transform="translate(0,334.7)"><circle class="we" cx="259" cy="5.84" r="4.4"/><text class="lb" x="270" y="9">kya_GH3_44</text><text class="t" x="333.5" y="9.5">CCCCCCACACCACACAAACCACCACCCCAACCCCACCCACCAACACCCAAACAACAACCCABAACCCCCCACAAACCACBAC</text><use href="#A" x="938.6"/><use href="#B" x="1043.8"/><use href="#B" x="1254.2"/></g>
<g id="r28" transform="translate(0,346.4)"><circle class="we" cx="259" cy="5.84" r="4.4"/><text class="lb" x="270" y="9">kya_GH3_41</text><text class="t" x="333.5" y="9.5">CCCCCCACACCACACAAACCACCACCCCAACCCCACCCACCAACACCCAAACAACAACCCABAACCCCCCACAAACCACBAC</text><use href="#A" x="938.6"/><use href="#B" x="1043.8"/><use href="#B" x="1254.2"/></g>
<g id="r29" transform="translate(0,358.1)"><circle class="we" cx="259" cy="5.84" r="4.4"/><text class="lb" x="270" y="9">kya_GH3_47</text><text class="t" x="333.5" y="9.5">CCCCCCACACCACACAAACCACCACCCCAACCCCACCCACCAACACCCAAACAACAACCCAAAACCCCCCACAAACCACAAC</text><use href="#A" x="938.6"/></g>
<g id="r30" transform="translate(0,369.7)"><circle class="we" cx="259" cy="5.84" r="4.4"/><text class="lb" x="270" y="9">fas_GH2_10</text><text class="t" x="333.5" y="9.5">CCCCCCACA-CACACAAABCACCACCCCAACCCCACCCACCAACACCCAAAACACAACCCAAAACCCCCCABAAACCACBAC</text><use href="#B" x="541.3"/><use href="#A" x="927"/><use href="#B" x="1160.7"/><use href="#B" x="1254.2"/></g>
<g id="r31" transform="translate(0,381.4)"><circle class="we" cx="259" cy="5.84" r="4.4"/><text class="lb" x="270" y="9">fas_GH2_11</text><text class="t" x="333.5" y="9.5">CCCCCCACACCACACAAA-CACCACCCCAACCCCACCCACCAACACCCAAABCACAACCCAAAACCCCCCAAAAACCACBAC</text><use href="#B" x="927"/><use href="#A" x="1160.7"/><use href="#B" x="1254.2"/></g>
<g id="r32" transform="translate(0,393.1)"><circle class="we" cx="259" cy="5.84" r="4.4"/><text class="lb" x="270" y="9">fas_GH4_34</text><text class="t" x="333.5" y="9.5">CCCCCCACABCACACAAA-CACCACCCCAACCCCACCCACCAACACCCAAAACACAACCCAAAACCCCCCAAAAACCACBAC</text><use href="#B" x="436.1"/><use href="#A" x="927"/><use href="#A" x="1160.7"/><use href="#B" x="1254.2"/></g>
<g id="r33" transform="translate(0,404.8)"><circle class="we" cx="259" cy="5.84" r="4.4"/><text class="lb" x="270" y="9">fas_GH1_12</text><text class="t" x="333.5" y="9.5">CCCCCCACACCACACAAABCACCACCCCAACCCCACCCACCAACACCCAAAACACAACCCABAACCCCCCAAAAACCACAAC</text><use href="#B" x="541.3"/><use href="#A" x="927"/><use href="#B" x="1043.8"/><use href="#A" x="1160.7"/></g>
<g id="r34" transform="translate(0,416.5)"><circle class="we" cx="259" cy="5.84" r="4.4"/><text class="lb" x="270" y="9">fas_GH1_13</text><text class="t" x="333.5" y="9.5">CCCCCCACA-CACACAAA-CACCACCCCAACCCCACCCACCAACACCCAAABCACAACCCAAAACCCCCCAAAAACCACBAC</text><use href="#B" x="927"/><use href="#A" x="1160.7"/><use href="#B" x="1254.2"/></g>
<g id="r35" transform="translate(0,428.2)"><circle class="we" cx="259" cy="5.84" r="4.4"/><text class="lb" x="270" y="9">fas_GH2_16</text><text class="t" x="333.5" y="9.5">CCCCCCACACCACACAAABCACCABCCCAACCCCACCCACCAACACCCAAAACACAACCCAAAACCCCCCAAAAACCACBAC</text><use href="#B" x="541.3"/><use href="#B" x="611.4"/><use href="#A" x="927"/><use href="#A" x="1160.7"/><use href="#B" x="1254.2"/></g>
<g id="r36" transform="translate(0,439.9)"><circle class="we" cx="259" cy="5.84" r="4.4"/><text class="lb" x="270" y="9">fas_GH4_35</text><text class="t" x="333.5" y="9.5">CCCCCCACACCACACAAA-CACCACCCCAACCCCACCCACCAACACCCAAAACACAACCCAAAACCCCCCAAAAACCAC-AC</text><use href="#A" x="927"/><use href="#A" x="1160.7"/></g>
<g id="r37" transform="translate(0,451.5)"><circle class="we" cx="259" cy="5.84" r="4.4"/><text class="lb" x="270" y="9">fas_GH4_36</text><text class="t" x="333.5" y="9.5">CCCCCCACACCACACAAA-CACCACCCCAACCCCACCCACCAACACCCAAAACACAACCCAAAACCCCCCAAAAACCACBAC</text><use href="#A" x="927"/><use href="#A" x="1160.7"/><use href="#B" x="1254.2"/></g>
<g id="r38" transform="translate(0,463.2)"><circle class="we" cx="259" cy="5.84" r="4.4"/><text class="lb" x="270" y="9">fas_GH4_40</text><text class="t" x="333.5" y="9.5">CCCCCCACACCACACAAABCACCACCCCAACCCCACCCACCAACACCCAAAACACAACCCAAAACCCCCCAAAAACCACBAC</text><use href="#B" x="541.3"/><use href="#A" x="927"/><use href="#A" x="1160.7"/><use href="#B" x="1254.2"/></g>
<g id="r39" transform="translate(0,474.9)"><circle class="we" cx="259" cy="5.84" r="4.4"/><text class="lb" x="270" y="9">fas_GH4_38</text><text class="t" x="333.5" y="9.5">CCCCCCACACCACACAAA-CACCACCCCAACCCCACCCACCAACACCCAAAACACAACCCAAAACCCCCCAAAAACCACBAC</text><use href="#A" x="927"/><use href="#A" x="1160.7"/><use href="#B" x="1254.2"/></g>
<g id="r40" transform="translate(0,486.6)"><circle class="we" cx="259" cy="5.84" r="4.4"/><text class="lb" x="270" y="9">fas_GH1_14</text><text class="t" x="333.5" y="9.5">CCCCCCACABCABACAAABCACCACCCCAACCCCACCCACCAACACCCAAABCACAACCCAAAACCCCCCAAAAACCACAAC</text><use href="#B" x="436.1"/><use href="#B" x="471.2"/><use href="#B" x="541.3"/><use href="#B" x="927"/><use href="#A" x="1160.7"/></g>
<g id="r41" transform="translate(0,498.3)"><circle class="we" cx="259" cy="5.84" r="4.4"/><text class="lb" x="270" y="9">fas_GH4_33</text><text class="t" x="333.5" y="9.5">CCCCCCACABCACACAAA-CACCACCCCAACCCCACCCACCAACACCCAAABCACAACCCAAAACCCCCCAAAAACCACBAC</text><use href="#B" x="436.1"/><use href="#B" x="927"/><use href="#A" x="1160.7"/><use href="#B" x="1254.2"/></g>
<g id="r42" transform="translate(0,510)"><circle class="we" cx="259" cy="5.84" r="4.4"/><text class="lb" x="270" y="9">fas_GH4_37</text><text class="t" x="333.5" y="9.5">CCCCCCACACCACACAAABCACCACCCCAACCCCACCCACCAACACCCAAAACACAACCCAAAACCCCCCAAAAACCACBAC</text><use href="#B" x="541.3"/><use href="#A" x="927"/><use href="#A" x="1160.7"/><use href="#B" x="1254.2"/></g>
<g id="r43" transform="translate(0,521.7)"><circle class="we" cx="259" cy="5.84" r="4.4"/><text class="lb" x="270" y="9">fas_GH4_39</text><text class="t" x="333.5" y="9.5">CCCCCCACA-CACACAAA-CACCACCCCAACCCCACCCACCAACACCCAAAACACAACCCAAAACCCCCCAAAAACCACBAC</text><use href="#A" x="927"/><use href="#A" x="1160.7"/><use href="#B" x="1254.2"/></g>
<g id="r44" transform="translate(0,533.3)"><circle class="we" cx="259" cy="5.84" r="4.4"/><text class="lb" x="270" y="9">fas_GH2_17</text><text class="t" x="333.5" y="9.5">CCCCCCACACCACACAAA-CACCACCCCAACCCCACCCACCAACACCCAAAACACAACCCAAAACCCCCCAAAAACCACBAC</text><use href="#A" x="927"/><use href="#A" x="1160.7"/><use href="#B" x="1254.2"/></g>
<g id="r45" transform="translate(0,545)"><circle class="we" cx="259" cy="5.84" r="4.4"/><text class="lb" x="270" y="9">fas_GH4_32</text><text class="t" x="333.5" y="9.5">CCCCCCACACCACACAAA-CACCACCCCAACCCCACCCACCAACACCCAAAABACAACCCAAAACCCCCCAAAAACCACBAC</text><use href="#A" x="927"/><use href="#B" x="938.6"/><use href="#A" x="1160.7"/><use href="#B" x="1254.2"/></g>
</svg>
